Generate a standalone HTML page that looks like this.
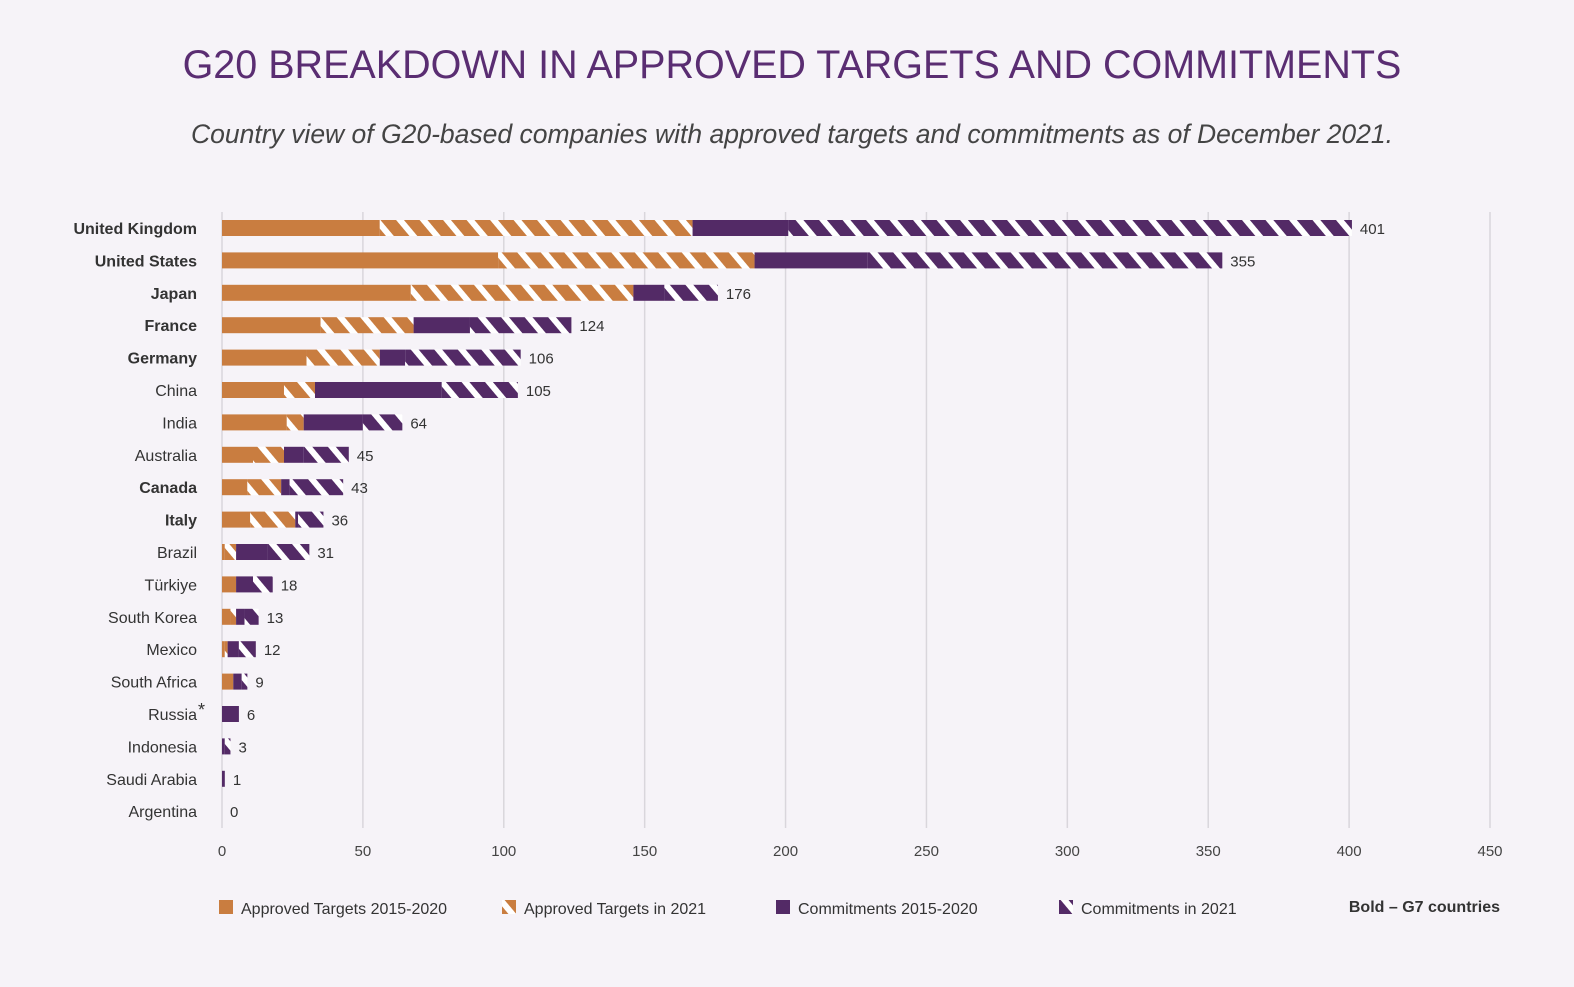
<!DOCTYPE html>
<html><head><meta charset="utf-8"><style>
body{margin:0;background:#f6f3f8;font-family:"Liberation Sans",sans-serif}
</style></head><body>
<svg id="chart" width="1574" height="982" xmlns="http://www.w3.org/2000/svg">
<defs>
<pattern id="hatchO" patternUnits="userSpaceOnUse" width="18" height="18" patternTransform="rotate(-40)">
<rect width="18" height="18" fill="#c97d40"/><rect x="0" width="6" height="18" fill="#ffffff"/></pattern>
<pattern id="hatchP" patternUnits="userSpaceOnUse" width="18" height="18" patternTransform="rotate(-40)">
<rect width="18" height="18" fill="#532a66"/><rect x="0" width="6" height="18" fill="#ffffff"/></pattern>
</defs>
<rect width="1574" height="982" fill="#f6f3f8"/>
<text x="792" y="78" text-anchor="middle" font-size="39.5" fill="#5a2d72" font-family="Liberation Sans, sans-serif">G20 BREAKDOWN IN APPROVED TARGETS AND COMMITMENTS</text>
<text x="792" y="143" text-anchor="middle" font-size="26.5" font-style="italic" fill="#444">Country view of G20-based companies with approved targets and commitments as of December 2021.</text>
<g id="grid"></g><g id="bars"></g><g id="labels"></g>
<g font-size="16" fill="#333">
<rect x="219" y="900" width="14" height="14" fill="#c97d40"/>
<text x="241" y="914">Approved Targets 2015-2020</text>
<rect x="502" y="900" width="14" height="14" fill="url(#hatchO)"/>
<text x="524" y="914">Approved Targets in 2021</text>
<rect x="776" y="900" width="14" height="14" fill="#532a66"/>
<text x="798" y="914">Commitments 2015-2020</text>
<rect x="1059" y="900" width="14" height="14" fill="url(#hatchP)"/>
<text x="1081" y="914">Commitments in 2021</text>
<text x="1500" y="912" text-anchor="end" font-weight="bold">Bold – G7 countries</text>
</g>
</svg>
<script>
const countries=["United Kingdom","United States","Japan","France","Germany","China","India","Australia","Canada","Italy","Brazil","Türkiye","South Korea","Mexico","South Africa","Russia","Indonesia","Saudi Arabia","Argentina"];
const g7=[1,1,1,1,1,0,0,0,1,1,0,0,0,0,0,0,0,0,0];
const targets1520=[56,98,67,35,30,22,23,11,9,10,1,5,3,1,4,0,0,0,0];
const targets2021=[111,91,79,33,26,11,6,11,12,16,4,0,2,1,0,0,0,0,0];
const commit1520=[34,40,11,20,9,45,21,7,3,1,11,6,3,4,3,6,1,1,0];
const commit2021=[200,126,19,36,41,27,14,16,19,9,15,7,5,6,2,0,2,0,0];
const totals=[401,355,176,124,106,105,64,45,43,36,31,18,13,12,9,6,3,1,0];
const ticks=[0,50,100,150,200,250,300,350,400,450];
const NS="http://www.w3.org/2000/svg";
const x0=222,x1=1490,max=450;
const xs=v=>x0+(v/max)*(x1-x0);
const ys=i=>228+i*32.4;
function mk(tag,attrs,parent){const e=document.createElementNS(NS,tag);for(const k in attrs)e.setAttribute(k,attrs[k]);parent.appendChild(e);return e;}
const grid=document.getElementById('grid'),bars=document.getElementById('bars'),labels=document.getElementById('labels');
ticks.forEach(t=>{
 const l=mk('line',{x1:xs(t),x2:xs(t),y1:212,y2:828,stroke:'#d9d6dc','stroke-width':1.5},grid);
 
 
 const tx=mk('text',{x:xs(t),y:856,'text-anchor':'middle','font-size':15,fill:'#444'},grid);
 tx.textContent=t;
 
 
});
const series=[[targets1520,'#c97d40','targets-2015-2020'],[targets2021,'url(#hatchO)','targets-2021'],[commit1520,'#532a66','commitments-2015-2020'],[commit2021,'url(#hatchP)','commitments-2021']];
countries.forEach((c,i)=>{
 const y=ys(i);let acc=0;
 series.forEach(([arr,fill,nm])=>{
  const v=arr[i];
  if(v>0){const r=mk('rect',{x:xs(acc),y:y-8,width:xs(acc+v)-xs(acc),height:16,fill:fill},bars);
  
  }
  acc+=v;
 });
 const lab=mk('text',{x:197,y:y+6,'text-anchor':'end','font-size':16,fill:'#333','font-weight':g7[i]?'bold':'normal'},labels);
 lab.textContent=c;
 
 
 const val=mk('text',{x:xs(acc)+8,y:y+6,'font-size':15,fill:'#333'},labels);
 val.textContent=totals[i];
 
 
});
const star=mk('text',{x:198,y:ys(15)+2,'font-size':18,fill:'#333'},labels);
star.textContent='*';


</script>
</body></html>
